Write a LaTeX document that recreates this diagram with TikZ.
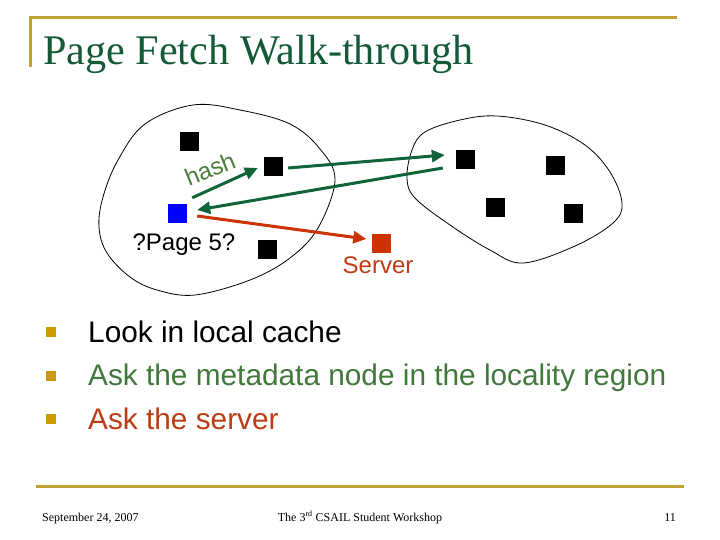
\documentclass[tikz,border=0pt]{standalone}
\usepackage{fontspec}
\setmainfont{Liberation Serif}
\setsansfont{Liberation Sans}
\usetikzlibrary{arrows.meta}
\definecolor{gold}{RGB}{192,160,48}
\definecolor{bulgold}{RGB}{204,153,0}
\definecolor{titlegreen}{RGB}{20,90,55}
\definecolor{arrgreen}{RGB}{17,100,55}
\definecolor{txtgreen}{RGB}{65,120,60}
\definecolor{hashgreen}{RGB}{75,125,60}
\definecolor{rust}{RGB}{190,60,20}
\definecolor{srv}{RGB}{204,51,0}
\definecolor{pblue}{RGB}{0,0,255}
\begin{document}
\begin{tikzpicture}[x=1pt,y=-1pt,
  sq/.style={minimum size=19pt, inner sep=0pt, fill=black, draw=none},
  blob/.style={draw=black, line width=0.8pt},
  goldline/.style={draw=gold, line width=3pt},
  garrow/.style={draw=arrgreen, line width=3pt, -{Triangle[length=13pt,width=12pt]}},
  rarrow/.style={draw=srv, line width=3pt, -{Triangle[length=13pt,width=12pt]}},
  bullet/.style={fill=bulgold, minimum size=10pt, inner sep=0pt},
  btext/.style={anchor=base west, inner sep=0pt, font=\sffamily\fontsize{29.8}{34}\selectfont},
  lbl/.style={inner sep=0pt, font=\sffamily\fontsize{24}{28}\selectfont},
  foot/.style={inner sep=0pt, font=\rmfamily\fontsize{12}{14}\selectfont}]
\useasboundingbox (0,0) rectangle (720,540);
\fill[white] (0,0) rectangle (720,540);

% header
\draw[goldline] (30.5,67) -- (30.5,18) -- (677,18);
\node[anchor=base west, inner sep=0pt, text=titlegreen, font=\rmfamily\fontsize{42.2}{48}\selectfont] (title) at (43,65) {Page Fetch Walk-through};

% regions
\draw[blob] plot[smooth cycle, tension=0.6] coordinates {
  (193,105) (240,110) (290,124) (320,149) (335,180) (318,228) (290,258)
  (250,280) (195,295) (157,290) (130,277) (107,253) (99,227) (103,197)
  (118,160) (145,124)};
\draw[blob] plot[smooth cycle, tension=0.6] coordinates {
  (497,116) (545,125) (585,145) (610,172) (622,203) (613,223) (575,246)
  (523,263) (490,250) (450,225) (415,198) (407,178) (412,150) (425,132)
  (460,120)};

% squares
\node[sq] (a1) at (189.5,141.5) {};
\node[sq] (a2) at (273.5,166.5) {};
\node[sq, fill=pblue] (me) at (177.5,213.5) {};
\node[sq] (a3) at (267.5,249.5) {};
\node[sq, fill=srv] (server) at (381,243.5) {};
\node[sq] (r1) at (465.5,159.5) {};
\node[sq] (r2) at (555.5,165.5) {};
\node[sq] (r3) at (495.5,207.5) {};
\node[sq] (r4) at (573.5,213.5) {};

% arrows
\draw[garrow] ([shift={(5,-6)}]me.north east) -- ([shift={(-6,1.5)}]a2.west);
\draw[garrow] ([shift={(5,1.5)}]a2.east) -- ([shift={(-11,-4.5)}]r1.west);
\draw[garrow] ([shift={(-13,8.5)}]r1.west) -- ([shift={(10,-3.5)}]me.east);
\draw[rarrow] ([shift={(10,2.5)}]me.east) -- ([shift={(-5,-4.5)}]server.west);

% labels
\node[lbl, text=hashgreen, rotate=22] (hash) at (210,169) {hash};
\node[lbl, anchor=base] (page) at (184,250) {?Page 5?};
\node[lbl, anchor=base, text=rust] (srvlbl) at (378,273) {Server};

% bullets
\node[bullet] (b1) at (50.5,332) {};
\node[bullet] (b2) at (50.5,375.5) {};
\node[bullet] (b3) at (50.5,419) {};
\node[btext] (t1) at (88,342) {Look in local cache};
\node[btext, text=txtgreen] (t2) at (88,385.5) {Ask the metadata node in the locality region};
\node[btext, text=rust] (t3) at (88,429) {Ask the server};

% footer
\draw[goldline] (36,486) -- (684,486);
\node[foot, anchor=base west] (date) at (42,521) {September 24, 2007};
\node[foot, anchor=base] (event) at (360,521) {The 3\textsuperscript{rd} CSAIL Student Workshop};
\node[foot, anchor=base east] (pg) at (676,521) {11};
\end{tikzpicture}
\end{document}
